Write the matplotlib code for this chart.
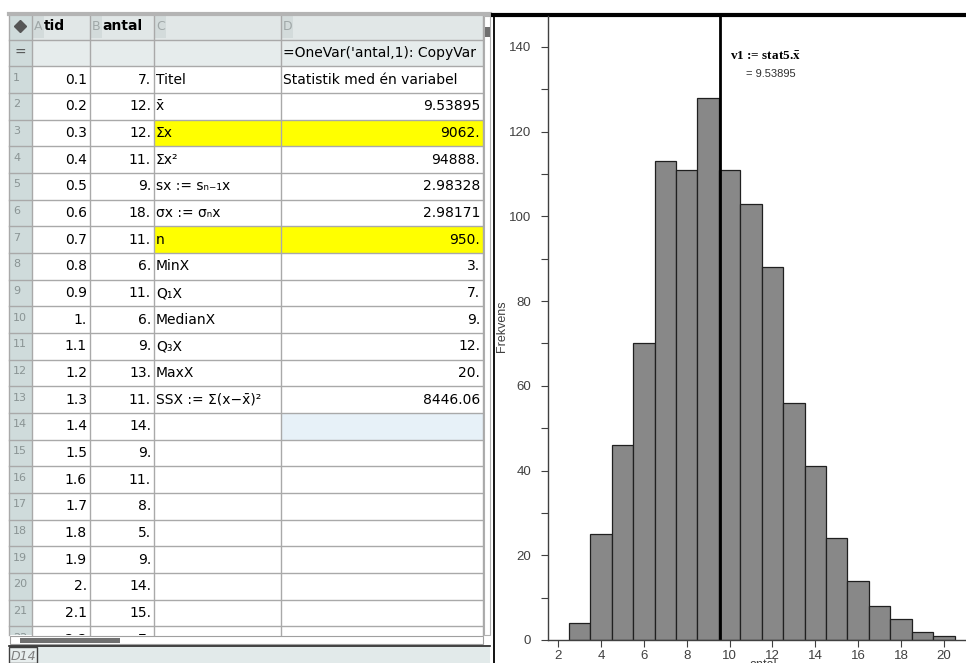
import matplotlib.pyplot as plt
from matplotlib.patches import Rectangle
from matplotlib.ticker import MultipleLocator
from matplotlib.transforms import Bbox, TransformedBbox

# kalkylbladets data
tid = [0.1, 0.2, 0.3, 0.4, 0.5, 0.6, 0.7, 0.8, 0.9, 1.0, 1.1,
       1.2, 1.3, 1.4, 1.5, 1.6, 1.7, 1.8, 1.9, 2.0, 2.1, 2.2]
antal = [7, 12, 12, 11, 9, 18, 11, 6, 11, 6, 9,
         13, 11, 14, 9, 11, 8, 5, 9, 14, 15, 7]
stat_namn = ['Titel', 'x\u0304', '\u03a3x', '\u03a3x\u00b2', 'sx := s\u2099\u208b\u2081x',
             '\u03c3x := \u03c3\u2099x', 'n', 'MinX', 'Q\u2081X', 'MedianX', 'Q\u2083X',
             'MaxX', 'SSX := \u03a3(x\u2212x\u0304)\u00b2']
stat_varde = ['Statistik med én variabel', '9.53895', '9062.', '94888.', '2.98328',
              '2.98171', '950.', '3.', '7.', '9.', '12.', '20.', '8446.06']
formel = "=OneVar('antal,1): CopyVar"
gula_rader = [3, 7]

# histogram: antal -> frekvens
varden = [3, 4, 5, 6, 7, 8, 9, 10, 11, 12, 13, 14, 15, 16, 17, 18, 19, 20]
frekvens = [4, 25, 46, 70, 113, 111, 128, 111, 103, 88, 56, 41, 24, 14, 8, 5, 2, 1]
medel = 9.53895

plt.rcParams['font.family'] = ['DejaVu Sans']
plt.rcParams['mathtext.fontset'] = 'stix'
fig = plt.figure(figsize=(9.66, 6.63), dpi=100)

# ---- kalkylblad (ritas i pixelkoordinater) ----
s = fig.add_axes([0, 0, 1, 1])
s.set_xlim(0, 966)
s.set_ylim(663, 0)
s.axis('off')

kol = [9, 32, 90, 154, 281, 483]
y0 = 13
h = 26.67
nrad = 2 + len(tid)
botten = 635
grid = '#a9a9a9'

def rad_top(i):
    return y0 + i * h

# bakgrunder
s.add_patch(Rectangle((kol[0], y0), kol[-1] - kol[0], h, color='#e1e7e7', lw=0))
s.add_patch(Rectangle((kol[0], y0), kol[1] - kol[0], botten - y0, color='#cfdbdb', lw=0))
s.add_patch(Rectangle((kol[1], y0 + h), kol[-1] - kol[1], h, color='#e6ecec', lw=0))
for r in gula_rader:
    s.add_patch(Rectangle((kol[3], rad_top(r + 1)), kol[5] - kol[3], h, color='#ffff00', lw=0))
s.add_patch(Rectangle((kol[4], rad_top(15)), kol[5] - kol[4], h, color='#e7f1f8', lw=0))
for x in kol[1:5]:
    s.add_patch(Rectangle((x + 1, y0 + 2), 11, h - 4, color='#d3dbdb', lw=0))

# rutnät
for i in range(1, nrad + 1):
    yy = rad_top(i)
    if yy < botten:
        s.plot([kol[0], kol[-1]], [yy, yy], color=grid, lw=1)
for x in kol:
    s.plot([x, x], [y0, botten], color=grid, lw=1)
s.plot([kol[0], kol[-1] + 7], [y0 + 1, y0 + 1], color='#b4b4b4', lw=3)

klipp = TransformedBbox(Bbox([[kol[0], y0], [kol[-1], botten]]), s.transData)

# rubriker
s.plot([20], [y0 + h / 2], marker='D', ms=6, color='#555555')
for x, bokstav, namn in zip(kol[1:5], 'ABCD', ['tid', 'antal', '', '']):
    s.text(x + 2, y0 + h / 2, bokstav, color='#a0a8a8', fontsize=9, va='center')
    s.text(x + 12, y0 + h / 2, namn, color='black', fontsize=10, fontweight='bold', va='center')
s.text(14, y0 + 1.5 * h, '=', color='#555555', fontsize=10, va='center')
s.text(kol[4] + 2, y0 + 1.5 * h, formel, fontsize=10, va='center')

for i in range(len(tid)):
    yc = y0 + (i + 2.5) * h
    t1 = s.text(13, yc - 2, str(i + 1), color='#8a9494', fontsize=8, va='center')
    ttxt = f'{tid[i]:g}'
    if '.' not in ttxt:
        ttxt += '.'
    t2 = s.text(kol[2] - 3, yc, ttxt, fontsize=10, ha='right', va='center')
    t3 = s.text(kol[3] - 3, yc, f'{antal[i]}.', fontsize=10, ha='right', va='center')
    for t in (t1, t2, t3):
        t.set_clip_box(klipp)
        t.set_clip_on(True)
    if i < len(stat_namn):
        s.text(kol[3] + 2, yc, stat_namn[i], fontsize=10, va='center')
        if i == 0:
            s.text(kol[4] + 2, yc, stat_varde[i], fontsize=10, va='center')
        else:
            s.text(kol[5] - 3, yc, stat_varde[i], fontsize=10, ha='right', va='center')

# rullningslister
s.add_patch(Rectangle((kol[-1] + 1, y0 + 3), 6, botten - y0 - 3, fc='white', ec='#b0b0b0', lw=0.8))
s.add_patch(Rectangle((kol[-1] + 1.5, 27), 5, 10, color='#707070', lw=0))
s.add_patch(Rectangle((kol[0] + 1, 636), kol[-1] - kol[0] - 1, 8, fc='white', ec='#a0a0a0', lw=0.8))
s.add_patch(Rectangle((kol[0] + 11, 637.5), 100, 5, color='#707070', lw=0))
s.plot([kol[0], kol[-1] + 7], [646, 646], color='#202020', lw=1.2)
s.add_patch(Rectangle((kol[0], 647), kol[-1] - kol[0] + 7, 16, color='#e2eaea', lw=0))
s.add_patch(Rectangle((kol[0], 647), 28, 16, fc='#e8eeee', ec='#404040', lw=1))
s.text(kol[0] + 2, 657, 'D14', fontsize=9, style='italic', color='#808080', va='center')

# ramar för grafen
s.plot([493.5, 493.5], [14, 663], color='black', lw=1.3)
s.plot([493, 966], [14.5, 14.5], color='black', lw=3)

# ---- histogram ----
ax = fig.add_axes([548 / 966, 23 / 663, 418 / 966, 624 / 663])
ax.patch.set_alpha(0)
ax.bar(varden, frekvens, width=1, color='#888888', edgecolor='#202020', lw=0.9)
ax.axvline(medel, color='black', lw=2)
ax.set_xlim(1.53, 21.03)
ax.set_ylim(0, 147.3)
ax.spines['top'].set_visible(False)
ax.spines['right'].set_visible(False)
for sp in ('left', 'bottom'):
    ax.spines[sp].set_color('#404040')
    ax.spines[sp].set_linewidth(1)
ax.xaxis.set_major_locator(MultipleLocator(2))
ax.yaxis.set_major_locator(MultipleLocator(20))
ax.yaxis.set_minor_locator(MultipleLocator(10))
ax.tick_params(which='both', direction='out', length=5, color='#404040',
               labelcolor='#404040', labelsize=9.5, width=0.8)
ax.tick_params(axis='y', pad=7)
ax.tick_params(axis='x', pad=2)
for lab in ax.get_xticklabels() + ax.get_yticklabels():
    lab.set_family('Liberation Sans')
ax.set_ylabel('Frekvens', fontsize=9, color='#404040', family='Liberation Sans')
ax.yaxis.set_label_coords(-0.096, 0.503)
ax.set_xlabel('antal', fontsize=9, color='#404040', family='Liberation Sans')
ax.xaxis.set_label_coords(0.514, -0.03)

ax.text(730, 57, r'v1 := stat5.$\mathbf{\bar{x}}$', transform=s.transData, fontsize=9.5,
        fontweight='bold', family='Liberation Serif', va='center')
ax.text(746, 74, '= 9.53895', transform=s.transData, fontsize=8,
        color='#303030', va='center', family='Liberation Sans')

fig.savefig('out.png', dpi=100)
